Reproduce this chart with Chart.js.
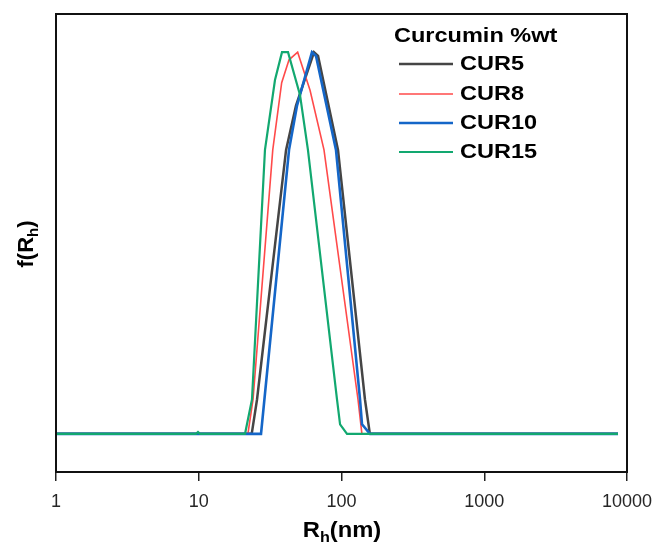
<!DOCTYPE html>
<html lang="en">
<head>
<meta charset="UTF-8">
<title>Curcumin DLS size distribution</title>
<script src="https://cdn.jsdelivr.net/npm/chart.js"></script>
<style>
  html, body { margin: 0; padding: 0; background: #fff; }
  canvas { display: block; }
</style>
</head>
<body>
<canvas id="dlsChart" width="654" height="545"></canvas>
<script>
// Rh (nm) and normalised f(Rh)
var cur5X = [1, 23.5, 25.6, 40.9, 48.0, 64.2, 68.5, 94.5, 146, 158, 8650];
var cur5Y = [0, 0, 0.09, 0.744, 0.86, 1.0, 0.99, 0.744, 0.09, 0, 0];

var cur8X = [1, 22.1, 24.0, 33.0, 38.1, 42.9, 49.3, 60.2, 75.4, 130.5, 139, 8650];
var cur8Y = [0, 0, 0.09, 0.744, 0.92, 0.98, 1.0, 0.9, 0.744, 0.09, 0, 0];

var cur10X = [1, 27.3, 42.9, 48.8, 62.1, 66.3, 91.5, 134.8, 139.2, 158.4, 8650];
var cur10Y = [0, 0, 0.744, 0.86, 1.0, 0.99, 0.744, 0.09, 0.025, 0, 0];

var cur15X = [1, 9.57, 9.88, 10.2, 21.1, 23.6, 29.1, 34.2, 38.3, 42.2, 51.2, 58.2, 93.0, 97.7, 109.3, 8650];
var cur15Y = [0, 0, 0.005, 0, 0, 0.09, 0.744, 0.927, 1.0, 1.0, 0.888, 0.744, 0.09, 0.025, 0, 0];

var xTicks = [1, 10, 100, 1000, 10000];
var seriesNames = ['CUR5', 'CUR8', 'CUR10', 'CUR15'];
var seriesColors = ['#454545', '#ff4a4a', '#1466c8', '#12a870'];
var seriesWidths = [2.5, 1.6, 2.6, 2.2];
var legendTitle = 'Curcumin %wt';

function pts(xs, ys) {
  return xs.map(function (x, i) { return { x: x, y: ys[i] }; });
}

var allX = [cur5X, cur8X, cur10X, cur15X];
var allY = [cur5Y, cur8Y, cur10Y, cur15Y];
var drawOrder = [3, 2, 1, 0]; // green on top, then blue, red, black

var datasets = seriesNames.map(function (name, i) {
  return {
    label: name,
    data: pts(allX[i], allY[i]),
    borderColor: seriesColors[i],
    backgroundColor: seriesColors[i],
    borderWidth: seriesWidths[i],
    pointRadius: 0,
    showLine: true,
    tension: 0,
    order: drawOrder[i]
  };
});

var BOLD = 'bold 21px "Liberation Sans", Arial, sans-serif';

// frame, in-plot legend and axis titles (with subscripts)
var extras = {
  id: 'extras',
  afterDraw: function (chart) {
    var ctx = chart.ctx;
    var a = chart.chartArea;
    ctx.save();

    // box round the plot
    ctx.strokeStyle = '#111';
    ctx.lineWidth = 2;
    ctx.strokeRect(a.left, a.top, a.right - a.left, a.bottom - a.top);

    // legend
    ctx.fillStyle = '#000';
    ctx.textBaseline = 'middle';
    ctx.font = BOLD;
    ctx.save();
    ctx.translate(394, 36);
    ctx.scale(1.12, 1);
    ctx.fillText(legendTitle, 0, 0);
    ctx.restore();

    var rows = [64, 94, 123, 152];
    seriesNames.forEach(function (name, i) {
      ctx.strokeStyle = seriesColors[i];
      ctx.lineWidth = seriesWidths[i];
      ctx.beginPath();
      ctx.moveTo(399, rows[i]);
      ctx.lineTo(453, rows[i]);
      ctx.stroke();
      ctx.save();
      ctx.translate(460, rows[i]);
      ctx.scale(1.12, 1);
      ctx.fillText(name, 0, 0);
      ctx.restore();
    });

    // x axis title: R_h(nm)
    drawSubTitle(ctx, 'R', 'h', '(nm)', 342, 529, 0, 1.08);
    // y axis title: f(R_h)
    drawSubTitle(ctx, 'f(R', 'h', ')', 25, 244, -Math.PI / 2, 1);

    ctx.restore();
  }
};

function drawSubTitle(ctx, before, sub, after, cx, cy, angle, sx) {
  var big = 'bold 22px "Liberation Sans", Arial, sans-serif';
  var small = 'bold 15px "Liberation Sans", Arial, sans-serif';
  ctx.save();
  ctx.font = big;
  var w1 = ctx.measureText(before).width;
  var w3 = ctx.measureText(after).width;
  ctx.font = small;
  var w2 = ctx.measureText(sub).width;
  var total = w1 + w2 + w3;
  ctx.translate(cx, cy);
  ctx.rotate(angle);
  ctx.scale(sx, 1);
  ctx.fillStyle = '#000';
  ctx.textBaseline = 'alphabetic';
  var x = -total / 2;
  var base = 8;
  ctx.font = big;
  ctx.fillText(before, x, base);
  ctx.font = small;
  ctx.fillText(sub, x + w1, base + 5);
  ctx.font = big;
  ctx.fillText(after, x + w1 + w2, base);
  ctx.restore();
}

new Chart(document.getElementById('dlsChart'), {
  type: 'scatter',
  data: { datasets: datasets },
  options: {
    responsive: false,
    animation: false,
    devicePixelRatio: 1,
    layout: { padding: { left: 56, right: 27, top: 14, bottom: 0 } },
    scales: {
      x: {
        type: 'logarithmic',
        min: 1,
        max: 10000,
        afterBuildTicks: function (scale) {
          scale.ticks = xTicks.map(function (v) { return { value: v }; });
        },
        afterFit: function (scale) {
          scale.height = 73;
          scale.paddingLeft = 0;
          scale.paddingRight = 0;
        },
        grid: {
          display: true,
          drawOnChartArea: false,
          drawTicks: true,
          tickLength: 9,
          color: '#222',
          lineWidth: 1.5
        },
        border: { display: false },
        ticks: {
          maxRotation: 0,
          autoSkip: false,
          padding: 10,
          color: '#262626',
          font: { family: '"Liberation Sans", Arial, sans-serif', size: 18 },
          callback: function (v) { return String(v); }
        }
      },
      y: {
        display: false,
        min: -0.1,
        max: 1.1
      }
    },
    plugins: {
      legend: { display: false },
      tooltip: { enabled: false }
    }
  },
  plugins: [extras]
});
</script>
</body>
</html>
